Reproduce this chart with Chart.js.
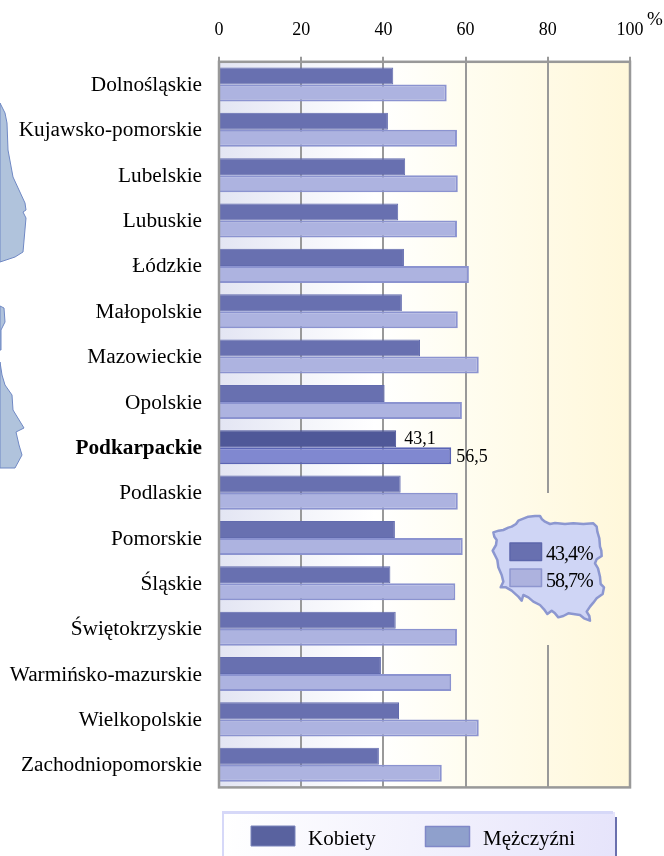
<!DOCTYPE html>
<html><head><meta charset="utf-8">
<style>html,body{margin:0;padding:0;background:#fff}canvas{display:block}</style>
<script src="https://cdn.jsdelivr.net/npm/chart.js@4"></script>
</head><body><canvas id="c" width="664" height="856"></canvas>
<script>
const categories=["Dolnośląskie","Kujawsko-pomorskie","Lubelskie","Lubuskie","Łódzkie","Małopolskie","Mazowieckie","Opolskie","Podkarpackie","Podlaskie","Pomorskie","Śląskie","Świętokrzyskie","Warmińsko-mazurskie","Wielkopolskie","Zachodniopomorskie"];
const kobiety=[42.4,41.1,45.3,43.6,45,44.5,48.9,40.3,43.1,44.2,42.8,41.7,43,39.4,43.8,38.9];
const mezczyzni=[55.4,57.9,58.1,57.9,60.8,58.1,63.2,59.1,56.5,58.1,59.3,57.5,57.9,56.5,63.2,54.2];
const highlight="Podkarpackie";
const seriesNames=["Kobiety","Mężczyźni"];
const polandValues=["43,4%","58,7%"];
const xTicks=[0,20,40,60,80,100];
const serif='"Liberation Serif"';
const hi=i=>categories[i]===highlight;
const polandOutline=[[160,157],[176,152],[190,150],[205,143],[215,140],[228,132],[235,122],[250,116],[265,110],[285,108],[300,108],[306,118],[315,125],[330,132],[345,129],[375,132],[400,130],[430,132],[460,130],[470,140],[472,155],[478,175],[480,200],[484,212],[485,228],[470,238],[465,250],[474,265],[480,290],[482,312],[492,322],[488,342],[470,355],[460,368],[450,380],[440,395],[448,408],[450,422],[432,415],[420,405],[400,402],[385,400],[370,408],[355,412],[345,400],[335,392],[322,402],[312,388],[300,375],[280,365],[265,352],[250,345],[245,362],[235,350],[215,332],[198,322],[182,322],[190,305],[185,285],[175,262],[172,240],[158,212],[168,195],[170,180],[163,170]];
const leftShapes=[[[0,103],[5,113],[7,123],[8,150],[13,177],[25,203],[26,210],[23,212],[26,218],[23,252],[15,257],[0,262]],[[0,306],[4,308],[5,322],[1,330],[1,350],[0,350]],[[0,362],[2,375],[5,385],[12,395],[13,410],[24,428],[16,432],[19,445],[22,455],[15,468],[0,468]]];

function plotGradient(ctx,a){const g=ctx.createLinearGradient(a.left,0,a.right,0);
 g.addColorStop(0,'#e3e5f3');g.addColorStop(.2,'#f3f4fa');g.addColorStop(.38,'#ffffff');g.addColorStop(.6,'#fffdf0');g.addColorStop(1,'#fff7da');return g;}
const decor={id:'decor',
 beforeDraw(chart){const {ctx,chartArea:a}=chart;ctx.save();ctx.fillStyle=plotGradient(ctx,a);ctx.fillRect(a.left,a.top,a.right-a.left,a.bottom-a.top);
  ctx.fillStyle='#b0c3dc';ctx.strokeStyle='#6f88c4';ctx.lineWidth=1;
  leftShapes.forEach(s=>{ctx.beginPath();s.forEach((p,i)=>i?ctx.lineTo(p[0],p[1]):ctx.moveTo(p[0],p[1]));ctx.closePath();ctx.fill();ctx.stroke();});
  ctx.restore();},
 afterDatasetsDraw(chart){const {ctx,chartArea:a,scales:{x,y}}=chart;ctx.save();
  ctx.strokeStyle='#999';ctx.lineWidth=2.5;ctx.strokeRect(a.left,a.top,a.right-a.left,a.bottom-a.top);
  // gap in the 80 gridline behind the inset map
  ctx.fillStyle=plotGradient(ctx,a);ctx.fillRect(x.getPixelForValue(80)-2,493,4,152);
  // inset map
  ctx.beginPath();polandOutline.forEach((p,i)=>{const X=440+p[0]/3,Y=480+p[1]/3;i?ctx.lineTo(X,Y):ctx.moveTo(X,Y);});ctx.closePath();
  ctx.fillStyle='#cfd5f5';ctx.fill();ctx.strokeStyle='#8c97d0';ctx.lineWidth=2.5;ctx.lineJoin='round';ctx.stroke();
  ctx.lineWidth=1.5;
  ctx.fillStyle='#6870b0';ctx.strokeStyle='#5c66ab';ctx.fillRect(510,543,31.5,17.5);ctx.strokeRect(510,543,31.5,17.5);
  ctx.fillStyle='#adb2de';ctx.strokeStyle='#8e96cf';ctx.fillRect(510,569,31.5,17.5);ctx.strokeRect(510,569,31.5,17.5);
  ctx.fillStyle='#000';ctx.font='20px '+serif;ctx.textAlign='left';ctx.textBaseline='alphabetic';
  try{ctx.letterSpacing='-1px'}catch(e){}
  ctx.fillText(polandValues[0],546,560);ctx.fillText(polandValues[1],546,587);
  try{ctx.letterSpacing='0px'}catch(e){}
  // value labels of the highlighted region
  const idx=categories.indexOf(highlight);
  ctx.font='18px '+serif;
  const m0=chart.getDatasetMeta(0).data[idx],m1=chart.getDatasetMeta(1).data[idx];
  ctx.textBaseline='middle';
  ctx.fillText(String(kobiety[idx]).replace('.',','),m0.x+8,m0.y);
  ctx.fillText(String(mezczyzni[idx]).replace('.',','),m1.x+5,m1.y+1);
  // unit
  ctx.font='19px '+serif;ctx.textBaseline='alphabetic';ctx.fillText('%',647,25);
  // legend
  const lg=ctx.createLinearGradient(224,814,614,856);lg.addColorStop(0,'#ffffff');lg.addColorStop(1,'#e6e4fb');
  ctx.fillStyle=lg;ctx.fillRect(223,812,392,44);
  ctx.fillStyle='#d6d8f8';ctx.fillRect(222,811,391,3);ctx.fillRect(222,811,2,45);
  ctx.fillStyle='#6a70ae';ctx.fillRect(615,817,2,39);
  ctx.lineWidth=1;
  ctx.fillStyle='#59629f';ctx.strokeStyle='#7a84bb';ctx.fillRect(251,826,44,20);ctx.strokeRect(251,826,44,20);
  ctx.lineWidth=1.5;ctx.fillStyle='#8fa0cc';ctx.strokeStyle='#8088c8';ctx.fillRect(425.5,826.5,44,20);ctx.strokeRect(425.5,826.5,44,20);
  ctx.fillStyle='#000';ctx.font='21px '+serif;ctx.fillText(seriesNames[0],308,845);ctx.fillText(seriesNames[1],483,845);
  ctx.restore();}
};
new Chart(document.getElementById('c'),{type:'bar',
 data:{labels:categories,datasets:[
  {label:seriesNames[0],data:kobiety,backgroundColor:c=>hi(c.dataIndex)?'#4f5898':'#6870b0',borderColor:c=>hi(c.dataIndex)?'#4a5299':'#626bae',borderWidth:1,categoryPercentage:.75,barPercentage:1},
  {label:seriesNames[1],data:mezczyzni,backgroundColor:c=>hi(c.dataIndex)?'#8088d0':'#adb3e0',borderColor:c=>hi(c.dataIndex)?'#5a64b5':'#8b93d0',borderWidth:2,categoryPercentage:.75,barPercentage:1}]},
 options:{indexAxis:'y',responsive:false,animation:false,devicePixelRatio:1,
  layout:{padding:{top:0,right:34,bottom:68.6,left:0}},
  plugins:{legend:{display:false},tooltip:{enabled:false}},
  scales:{
   x:{position:'top',min:0,max:100,afterBuildTicks(s){s.ticks=xTicks.map(v=>({value:v}));},afterFit(s){s.height=61.8;},
    grid:{color:'#999',lineWidth:2,tickLength:5,tickColor:'#999',drawTicks:true},border:{display:false},
    ticks:{color:'#000',font:{family:serif,size:18},padding:16,maxRotation:0}},
   y:{afterFit(s){s.width=219;},grid:{display:false},border:{display:false},
    ticks:{color:'#000',padding:9,labelOffset:1,autoSkip:false,font:c=>({family:serif,size:21.3,weight:categories[c.index]===highlight?'bold':'normal'})}}
  }},
 plugins:[decor]});
</script></body></html>
